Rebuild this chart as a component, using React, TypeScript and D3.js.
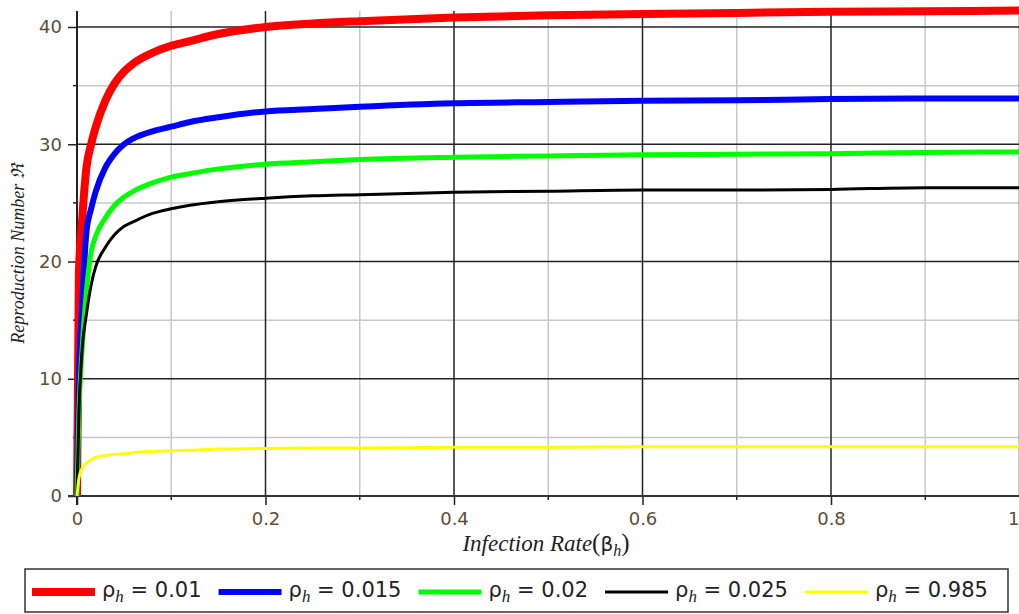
import React, { useEffect, useRef } from 'react';
import * as d3 from 'd3';

// infection rate samples (x axis)
const betaValues = [0, 0.002, 0.005, 0.01, 0.015, 0.02, 0.03, 0.04, 0.05, 0.06, 0.08, 0.1, 0.12, 0.15, 0.2, 0.25, 0.3, 0.4, 0.5, 0.6, 0.7, 0.8, 0.9, 1.0];

// reproduction number for each rho_h
const r001 = [0, 19, 23, 28, 30, 31.5, 33.7, 35.2, 36.2, 36.9, 37.8, 38.4, 38.8, 39.4, 40.0, 40.3, 40.5, 40.8, 41.0, 41.1, 41.2, 41.3, 41.35, 41.4];
const r0015 = [0, 10, 15.5, 22.5, 24.5, 26, 28, 29.2, 30, 30.5, 31.1, 31.5, 31.9, 32.3, 32.8, 33.0, 33.2, 33.5, 33.6, 33.7, 33.75, 33.85, 33.9, 33.9];
const r002 = [0, 7, 12, 17.5, 20.8, 22.2, 23.7, 24.8, 25.5, 26, 26.7, 27.2, 27.5, 27.9, 28.3, 28.5, 28.7, 28.9, 29.0, 29.1, 29.15, 29.2, 29.3, 29.35];
const r0025 = [0, 7, 12, 15.5, 18, 19.6, 21.2, 22.3, 23, 23.4, 24.1, 24.5, 24.8, 25.1, 25.4, 25.6, 25.7, 25.9, 26.0, 26.1, 26.1, 26.15, 26.3, 26.3];
const r0985 = [0, 1.5, 2.3, 2.8, 3.1, 3.3, 3.45, 3.55, 3.6, 3.7, 3.8, 3.85, 3.9, 4.0, 4.05, 4.1, 4.1, 4.15, 4.15, 4.2, 4.2, 4.2, 4.2, 4.2];

const rhoLabels = ['0.01', '0.015', '0.02', '0.025', '0.985'];
const seriesColors = ['#ff0000', '#0000ff', '#00ff00', '#000000', '#ffff00'];
const seriesWidths = [8, 6, 5, 3, 3];

const xTicks = [0, 0.2, 0.4, 0.6, 0.8, 1];
const xMinorTicks = [0.1, 0.3, 0.5, 0.7, 0.9];
const yTicks = [0, 10, 20, 30, 40];
const yMinorTicks = [5, 15, 25, 35];

const App = () => {
  const ref = useRef<SVGSVGElement>(null);

  useEffect(() => {
    const width = 1019;
    const height = 614;
    const tickColor = '#5c4d36';
    const sans = '"DejaVu Sans", sans-serif';
    const serif = '"Liberation Serif", "Times New Roman", serif';

    const svg = d3.select(ref.current);
    svg.selectAll('*').remove();
    svg.attr('width', width).attr('height', height);

    const x = d3.scaleLinear().domain([0, 1]).range([77, 1019.5]);
    const y = d3.scaleLinear().domain([0, 40]).range([496, 27]);
    const yTop = y(41.37);

    // grid lines
    const grid = svg.append('g');
    grid.selectAll('.vmin').data(xMinorTicks).enter().append('line')
      .attr('x1', d => x(d)).attr('x2', d => x(d))
      .attr('y1', yTop).attr('y2', y(0))
      .attr('stroke', '#c8c8c8').attr('stroke-width', 1.5);
    grid.selectAll('.hmin').data(yMinorTicks).enter().append('line')
      .attr('x1', x(0)).attr('x2', width)
      .attr('y1', d => y(d)).attr('y2', d => y(d))
      .attr('stroke', '#c8c8c8').attr('stroke-width', 1.5);
    grid.selectAll('.vmaj').data(xTicks.filter(d => d > 0)).enter().append('line')
      .attr('x1', d => x(d)).attr('x2', d => x(d))
      .attr('y1', yTop).attr('y2', y(0))
      .attr('stroke', '#222').attr('stroke-width', 1.5);
    grid.selectAll('.hmaj').data(yTicks.filter(d => d > 0)).enter().append('line')
      .attr('x1', x(0)).attr('x2', width)
      .attr('y1', d => y(d)).attr('y2', d => y(d))
      .attr('stroke', '#222').attr('stroke-width', 1.5);

    // axes
    const xAxis = svg.append('g')
      .attr('transform', `translate(0,${y(0)})`)
      .call(d3.axisBottom(x).tickValues(xTicks).tickFormat(d3.format('')).tickSize(9).tickPadding(7));
    const yAxis = svg.append('g')
      .attr('transform', `translate(${x(0)},0)`)
      .call(d3.axisLeft(y).tickValues(yTicks).tickSize(9).tickPadding(6));
    [xAxis, yAxis].forEach(a => {
      a.select('.domain').remove();
      a.selectAll('line').attr('stroke', '#222').attr('stroke-width', 1.5);
      a.selectAll('text').attr('fill', tickColor).style('font-family', sans).style('font-size', '18px');
    });
    // last x label sits at the right edge
    xAxis.selectAll<SVGTextElement, number>('text')
      .filter(d => d === 1)
      .attr('text-anchor', 'end')
      .attr('x', -0.5);
    svg.append('g').selectAll('line').data(xMinorTicks).enter().append('line')
      .attr('x1', d => x(d)).attr('x2', d => x(d))
      .attr('y1', y(0)).attr('y2', y(0) + 4)
      .attr('stroke', '#222').attr('stroke-width', 1.5);
    svg.append('g').selectAll('line').data(yMinorTicks).enter().append('line')
      .attr('x1', x(0) - 4).attr('x2', x(0))
      .attr('y1', d => y(d)).attr('y2', d => y(d))
      .attr('stroke', '#222').attr('stroke-width', 1.5);
    svg.append('line')
      .attr('x1', 68).attr('x2', width).attr('y1', y(0)).attr('y2', y(0))
      .attr('stroke', '#333').attr('stroke-width', 2);
    svg.append('line')
      .attr('x1', x(0)).attr('x2', x(0)).attr('y1', yTop).attr('y2', y(0) + 9)
      .attr('stroke', '#222').attr('stroke-width', 2);

    // axis titles
    const xt = svg.append('text')
      .attr('x', 546).attr('y', 551)
      .attr('text-anchor', 'middle')
      .attr('fill', '#222');
    xt.append('tspan').text('Infection Rate')
      .style('font-family', serif).style('font-style', 'italic').style('font-size', '23px');
    xt.append('tspan').text('(')
      .style('font-family', serif).style('font-size', '25px');
    xt.append('tspan').text('β')
      .style('font-family', sans).style('font-size', '20px');
    xt.append('tspan').text('h').attr('dy', 5)
      .style('font-family', serif).style('font-style', 'italic').style('font-size', '16px');
    xt.append('tspan').text(')').attr('dy', -5)
      .style('font-family', serif).style('font-size', '25px');

    svg.append('text')
      .attr('transform', `translate(24,${254}) rotate(-90)`)
      .attr('text-anchor', 'middle')
      .attr('fill', '#222')
      .style('font-family', serif).style('font-style', 'italic').style('font-size', '18px')
      .text('Reproduction Number ℜ');

    // curves
    const seriesData = [r001, r0015, r002, r0025, r0985];
    const line = d3.line<number>()
      .x((_, i) => x(betaValues[i]))
      .y(d => y(d))
      .curve(d3.curveMonotoneX);
    svg.append('g').selectAll('path').data(seriesData).enter().append('path')
      .attr('d', d => line(d))
      .attr('fill', 'none')
      .attr('stroke', (_, i) => seriesColors[i])
      .attr('stroke-width', (_, i) => seriesWidths[i])
      .attr('stroke-linejoin', 'round');

    // legend
    const legend = svg.append('g');
    legend.append('rect')
      .attr('x', 25).attr('y', 569).attr('width', 983).attr('height', 43)
      .attr('fill', 'white').attr('stroke', '#333').attr('stroke-width', 1.5);
    let cx = 32;
    rhoLabels.forEach((lab, i) => {
      legend.append('line')
        .attr('x1', cx).attr('x2', cx + 63).attr('y1', 592).attr('y2', 592)
        .attr('stroke', seriesColors[i]).attr('stroke-width', seriesWidths[i]);
      const t = legend.append('text')
        .attr('x', cx + 70).attr('y', 597)
        .attr('fill', '#222')
        .style('font-family', sans).style('font-size', '21px');
      t.append('tspan').text('ρ');
      t.append('tspan').text('h').attr('dy', 5)
        .style('font-family', serif).style('font-style', 'italic').style('font-size', '17px');
      t.append('tspan').text(` = ${lab}`).attr('dy', -5);
      const w = (t.node() as SVGTextElement).getComputedTextLength();
      cx = cx + 70 + w + 17;
    });
  }, []);

  return <svg ref={ref} style={{ position: 'absolute', left: 0, top: 0 }}></svg>;
};

export default App;
